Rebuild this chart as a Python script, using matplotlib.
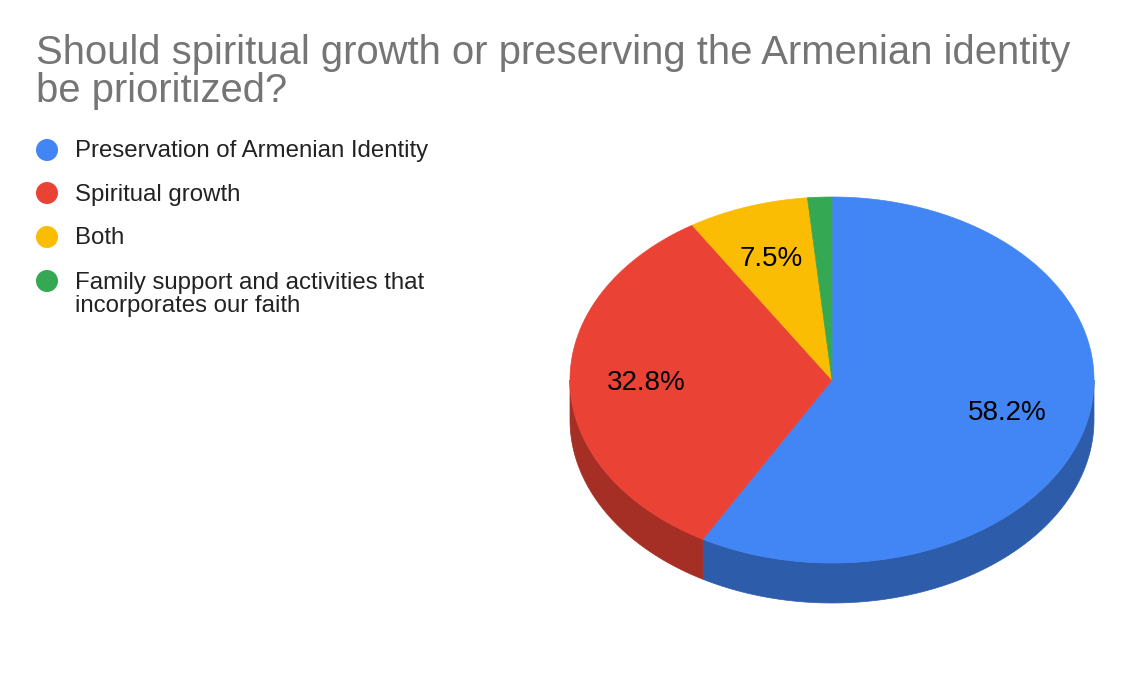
import numpy as np
import matplotlib
matplotlib.use("Agg")
import matplotlib.pyplot as plt
from matplotlib.patches import Polygon, Circle

plt.rcParams['font.family'] = ['Liberation Sans', 'DejaVu Sans']

title = "Should spiritual growth or preserving the Armenian identity\nbe prioritized?"
labels = ["Preservation of Armenian Identity", "Spiritual growth", "Both",
          "Family support and activities that\nincorporates our faith"]
counts = [39, 22, 5, 1]
colors = ["#4285F4", "#EA4335", "#FBBC04", "#34A853"]
side_colors = ["#2D5DAA", "#A52E25", "#B08403", "#25763A"]

# pie geometry in pixels
cx, cy, rx, ry, depth = 832, 380, 262, 183, 40

fig = plt.figure(figsize=(11.30, 6.98), dpi=100)
ax = fig.add_axes([0, 0, 1, 1])
ax.set_xlim(0, 1130)
ax.set_ylim(698, 0)
ax.axis("off")


def ellipse_pts(t1, t2, dy=0):
    t = np.radians(np.linspace(t1, t2, max(int(abs(t2 - t1)) * 2, 2)))
    return np.column_stack([cx + rx * np.cos(t), cy - ry * np.sin(t) + dy])


fracs = np.array(counts) / sum(counts)
ends = 90 - np.cumsum(fracs) * 360
starts = np.concatenate([[90], ends[:-1]])

# sides (only the front half, angles between -180 and 0)
for s, e, sc in zip(starts, ends, side_colors):
    a, b = min(s, 0), max(e, -180)
    if a <= b:
        continue
    top = ellipse_pts(a, b)
    bottom = ellipse_pts(b, a, depth)
    ax.add_patch(Polygon(np.vstack([top, bottom]), closed=True,
                         facecolor=sc, edgecolor=sc, lw=0.5))

# top faces
for s, e, c in zip(starts, ends, colors):
    pts = np.vstack([[cx, cy], ellipse_pts(s, e)])
    ax.add_patch(Polygon(pts, closed=True, facecolor=c, edgecolor=c, lw=0.5))

# percentage labels
for s, e, f in zip(starts, ends, fracs):
    if f < 0.05:
        continue
    m = np.radians((s + e) / 2)
    ax.text(cx + 0.7 * rx * np.cos(m) - 2, cy - 0.7 * ry * np.sin(m),
            f"{f * 100:.1f}%", fontsize=20, ha="center", va="center", color="black")

# title (baseline of the last line)
ax.text(36, 101.5, title, fontsize=28.8, color="#757575", ha="left", va="baseline",
        linespacing=1.0)

# legend
leg_y = [150, 193, 237, 281]
line_px = 23.4
for y, lab, c in zip(leg_y, labels, colors):
    ax.add_patch(Circle((47, y), 11, facecolor=c, edgecolor="none"))
    extra = lab.count("\n") * line_px
    ax.text(75, y + 7.5 + extra, lab, fontsize=17.3, color="#222222", ha="left",
            va="baseline", linespacing=1.05)

fig.savefig("out.png", dpi=100)
